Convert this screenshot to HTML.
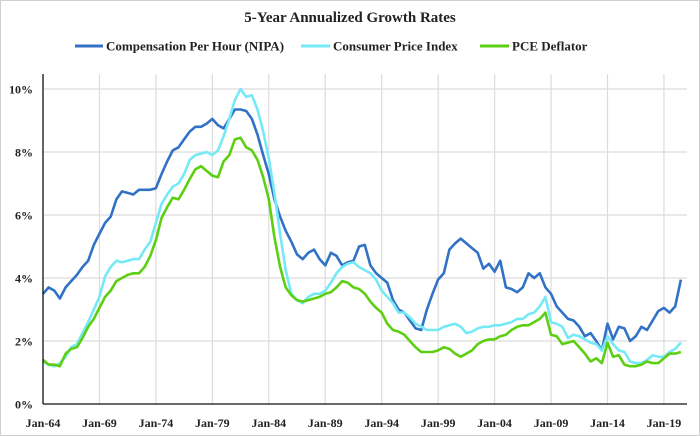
<!DOCTYPE html>
<html><head><meta charset="utf-8"><style>
body{margin:0;background:#fff}
svg{display:block}
text{font-family:"Liberation Serif",serif;font-weight:bold;fill:#222}
</style></head><body>
<svg id="chart" width="700" height="436" viewBox="0 0 700 436">
<rect x="0.5" y="0.5" width="699" height="435" fill="#fff" stroke="#d0d0d0"/>
<text x="350" y="22" text-anchor="middle" font-size="15">5-Year Annualized Growth Rates</text>
<g>
<g><line x1="75" y1="46" x2="103" y2="46" stroke="#3272c6" stroke-width="3"/><text x="106" y="50.5" font-size="13">Compensation Per Hour (NIPA)</text></g>
<g><line x1="301" y1="46" x2="330" y2="46" stroke="#76e9f7" stroke-width="3"/><text x="333" y="50.5" font-size="13">Consumer Price Index</text></g>
<g><line x1="480" y1="46" x2="509" y2="46" stroke="#5ccf12" stroke-width="3"/><text x="512" y="50.5" font-size="13">PCE Deflator</text></g>
</g>
<g id="grid"></g><g id="series"></g><g id="axes"></g>
</svg>
<script>
const startYear = 1964;
const stepYears = 0.5;
const yTicks = [0,2,4,6,8,10];
const xTickYears = [1964,1969,1974,1979,1984,1989,1994,1999,2004,2009,2014,2019];
const xTickLabels = ["Jan-64","Jan-69","Jan-74","Jan-79","Jan-84","Jan-89","Jan-94","Jan-99","Jan-04","Jan-09","Jan-14","Jan-19"];
const compensation = [3.5,3.7,3.6,3.35,3.7,3.9,4.1,4.35,4.55,5.05,5.4,5.75,5.95,6.5,6.75,6.7,6.65,6.8,6.8,6.8,6.85,7.3,7.7,8.05,8.15,8.4,8.65,8.8,8.8,8.9,9.05,8.85,8.75,9.05,9.35,9.35,9.3,9.05,8.55,7.9,7.3,6.5,5.95,5.5,5.15,4.75,4.6,4.8,4.9,4.6,4.4,4.8,4.7,4.4,4.5,4.55,5.0,5.05,4.4,4.15,4.0,3.85,3.3,3.0,2.9,2.65,2.4,2.35,3.0,3.5,3.95,4.15,4.9,5.1,5.25,5.1,4.95,4.8,4.3,4.45,4.2,4.55,3.7,3.65,3.55,3.7,4.15,4.0,4.15,3.7,3.5,3.1,2.9,2.7,2.65,2.45,2.15,2.25,2.0,1.7,2.55,2.05,2.45,2.4,2.0,2.15,2.45,2.35,2.65,2.95,3.05,2.9,3.1,3.95];
const cpi = [1.35,1.25,1.2,1.3,1.5,1.8,1.9,2.25,2.6,3.0,3.4,4.05,4.35,4.55,4.5,4.55,4.6,4.6,4.9,5.15,5.75,6.35,6.65,6.9,7.0,7.3,7.75,7.9,7.95,8.0,7.9,8.05,8.5,9.05,9.65,10.0,9.75,9.8,9.35,8.65,7.8,6.7,5.4,4.25,3.5,3.3,3.2,3.4,3.5,3.5,3.6,3.85,4.15,4.35,4.45,4.5,4.35,4.25,4.15,3.95,3.6,3.4,3.2,2.9,2.9,2.75,2.55,2.45,2.35,2.35,2.35,2.45,2.5,2.55,2.45,2.25,2.3,2.4,2.45,2.45,2.5,2.5,2.55,2.6,2.7,2.7,2.85,2.9,3.1,3.4,2.6,2.55,2.45,2.1,2.2,2.15,2.05,1.95,1.9,1.7,2.15,1.9,1.7,1.65,1.35,1.3,1.3,1.4,1.55,1.5,1.5,1.65,1.75,1.95];
const pce = [1.4,1.25,1.25,1.2,1.6,1.75,1.8,2.1,2.45,2.7,3.05,3.4,3.6,3.9,4.0,4.1,4.15,4.15,4.35,4.7,5.2,5.9,6.25,6.55,6.5,6.8,7.15,7.45,7.55,7.4,7.25,7.2,7.7,7.9,8.4,8.45,8.15,8.05,7.75,7.2,6.5,5.3,4.35,3.7,3.45,3.3,3.25,3.3,3.35,3.4,3.5,3.55,3.7,3.9,3.85,3.7,3.65,3.5,3.25,3.05,2.9,2.55,2.35,2.3,2.2,2.0,1.8,1.65,1.65,1.65,1.7,1.8,1.75,1.6,1.5,1.6,1.7,1.9,2.0,2.05,2.05,2.15,2.2,2.35,2.45,2.5,2.5,2.6,2.7,2.9,2.2,2.15,1.9,1.95,2.0,1.8,1.6,1.35,1.45,1.3,1.95,1.5,1.55,1.25,1.2,1.2,1.25,1.35,1.3,1.3,1.45,1.6,1.6,1.65];

const NS="http://www.w3.org/2000/svg";
const X0=43,X1=687,YT=74,YB=404;
const xScale = yr => X0 + (yr-1964)*11.29;
const yScale = v => YB - v*31.5;
function mk(tag, attrs, parent){const e=document.createElementNS(NS,tag);for(const k in attrs)e.setAttribute(k,attrs[k]);parent.appendChild(e);return e;}
const grid=document.getElementById('grid'), axes=document.getElementById('axes'), series=document.getElementById('series');
yTicks.forEach(t=>{
  if(t>0){const l=mk('line',{x1:X0,x2:X1,y1:yScale(t),y2:yScale(t),stroke:'#dcdcdc','stroke-width':1.2},grid);
  
  }
  const tx=mk('text',{x:33,y:yScale(t)+4.5,'text-anchor':'end','font-size':12},axes);
  tx.textContent=t+'%';
  
  
});
xTickYears.forEach((yr,i)=>{
  const x=xScale(yr);
  if(i>0){const l=mk('line',{x1:x,x2:x,y1:YT,y2:YB,stroke:'#dcdcdc','stroke-width':1.2},grid);
  
  }
  const tx=mk('text',{x:x,y:427,'text-anchor':'middle','font-size':12},axes);
  tx.textContent=xTickLabels[i];
  
  
});
const ya=mk('line',{x1:X0,x2:X0,y1:YT,y2:YB,stroke:'#111','stroke-width':1.3},axes);


const xa=mk('line',{x1:X0,x2:X1,y1:YB,y2:YB,stroke:'#111','stroke-width':1.3},axes);


function drawLine(vals,color,name){
  const d=vals.map((v,i)=>(i?'L':'M')+xScale(startYear+i*stepYears).toFixed(1)+','+yScale(v).toFixed(1)).join('');
  const p=mk('path',{d:d,fill:'none',stroke:color,'stroke-width':2.6,'stroke-linejoin':'round'},series);
  
  
}
drawLine(compensation,'#3272c6','compensation-line');
drawLine(cpi,'#76e9f7','cpi-line');
drawLine(pce,'#5ccf12','pce-line');
</script>
</body></html>
